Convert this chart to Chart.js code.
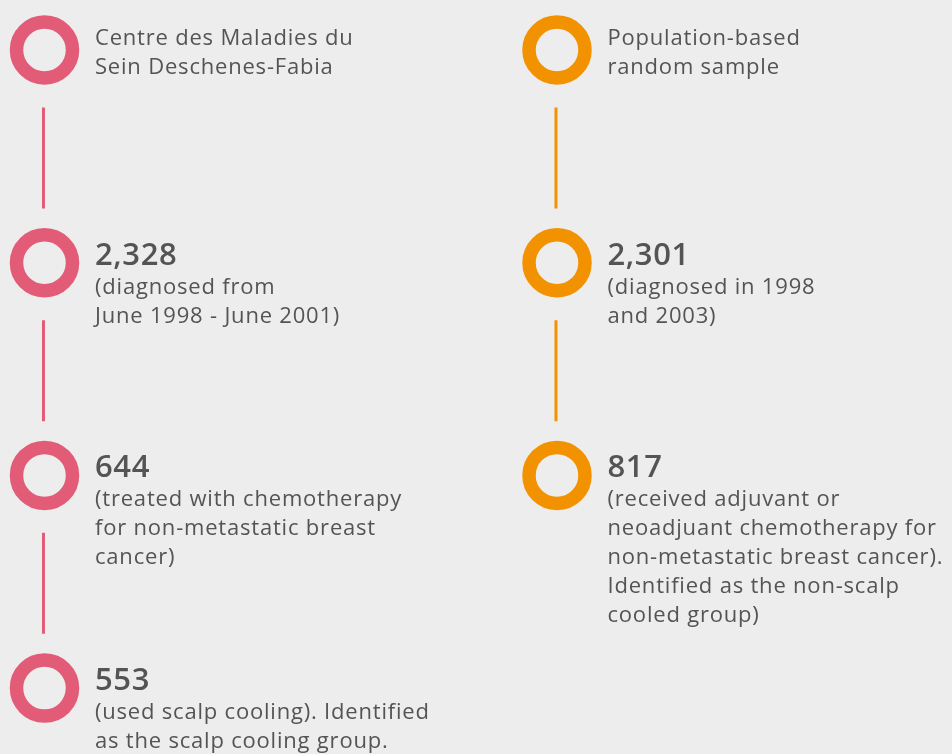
<!DOCTYPE html>
<html>
<head>
<meta charset="utf-8">
<title>Scalp cooling study groups</title>
<script src="https://cdn.jsdelivr.net/npm/chart.js@4.4.1/dist/chart.umd.min.js"></script>
<style>
  html, body { margin: 0; padding: 0; background: #ededed; }
  #flow { display: block; }
</style>
</head>
<body>
<canvas id="flow" width="952" height="754"></canvas>
<script>
// Two cohorts, each a chain of steps (step 0 = source, then counts)
const cohorts = ['Centre des Maladies du Sein Deschenes-Fabia', 'Population-based random sample'];
const leftCounts = [null, 2328, 644, 553];
const rightCounts = [null, 2301, 817];
const leftNotes = [
  ['Centre des Maladies du', 'Sein Deschenes-Fabia'],
  ['(diagnosed from', 'June 1998 - June 2001)'],
  ['(treated with chemotherapy', 'for non-metastatic breast', 'cancer)'],
  ['(used scalp cooling). Identified', 'as the scalp cooling group.']
];
const rightNotes = [
  ['Population-based', 'random sample'],
  ['(diagnosed in 1998', 'and 2003)'],
  ['(received adjuvant or', 'neoadjuant chemotherapy for', 'non-metastatic breast cancer).', 'Identified as the non-scalp', 'cooled group)']
];
const colours = ['#e25c78', '#f39200'];

const W = 952, H = 754;
// column 0 centre at 44.5px, column 1 at 557px; step 0 at 50px, step spacing ~212.7px
const colPx = [44.5, 557], stepPx = [50, 262.7];
const xRange = W / (colPx[1] - colPx[0]);
const xMin = -colPx[0] / (colPx[1] - colPx[0]);
const yUnit = stepPx[1] - stepPx[0];
const yMin = -stepPx[0] / yUnit;

const columns = [
  { counts: leftCounts, notes: leftNotes },
  { counts: rightCounts, notes: rightNotes }
];

const datasets = [];
columns.forEach((c, col) => {
  // connectors between consecutive steps
  for (let i = 0; i < c.counts.length - 1; i++) {
    datasets.push({
      type: 'line',
      data: [{ x: col - 0.002, y: i + 0.27 }, { x: col - 0.002, y: i + 0.745 }],
      borderColor: colours[col],
      borderWidth: 3,
      pointRadius: 0,
      clip: false
    });
  }
  // ring markers
  datasets.push({
    label: cohorts[col],
    data: c.counts.map((v, i) => ({ x: col, y: i, count: v })),
    pointStyle: 'circle',
    pointRadius: 28,
    pointBorderWidth: 13.5,
    pointBorderColor: colours[col],
    pointBackgroundColor: 'rgba(0,0,0,0)',
    pointHoverRadius: 28,
    clip: false
  });
});

const labelPlugin = {
  id: 'stepLabels',
  afterDatasetsDraw(chart) {
    const { ctx, scales: { x, y } } = chart;
    ctx.save();
    ctx.fillStyle = '#545454';
    ctx.textAlign = 'left';
    ctx.textBaseline = 'alphabetic';
    columns.forEach((c, col) => {
      c.counts.forEach((v, i) => {
        const px = x.getPixelForValue(col) + 50.5;
        const py = y.getPixelForValue(i);
        let base;
        if (v === null) {
          base = py - 5;
        } else {
          ctx.font = '600 31px "Open Sans"';
          ctx.letterSpacing = '0.6px';
          ctx.fillText(v.toLocaleString('en-US'), px, py + 2);
          base = py + 31;
        }
        ctx.font = '400 22px "Open Sans"';
        ctx.letterSpacing = '0.8px';
        c.notes[i].forEach((line, k) => ctx.fillText(line, px, base + k * 29));
      });
    });
    ctx.restore();
  }
};

new Chart(document.getElementById('flow'), {
  type: 'scatter',
  data: { datasets },
  options: {
    responsive: false,
    animation: false,
    events: [],
    layout: { padding: 0, autoPadding: false },
    plugins: { legend: { display: false }, tooltip: { enabled: false } },
    scales: {
      x: { type: 'linear', display: false, min: xMin, max: xMin + xRange },
      y: { type: 'linear', display: false, reverse: true, min: yMin, max: yMin + H / yUnit }
    }
  },
  plugins: [labelPlugin]
});
</script>
</body>
</html>
